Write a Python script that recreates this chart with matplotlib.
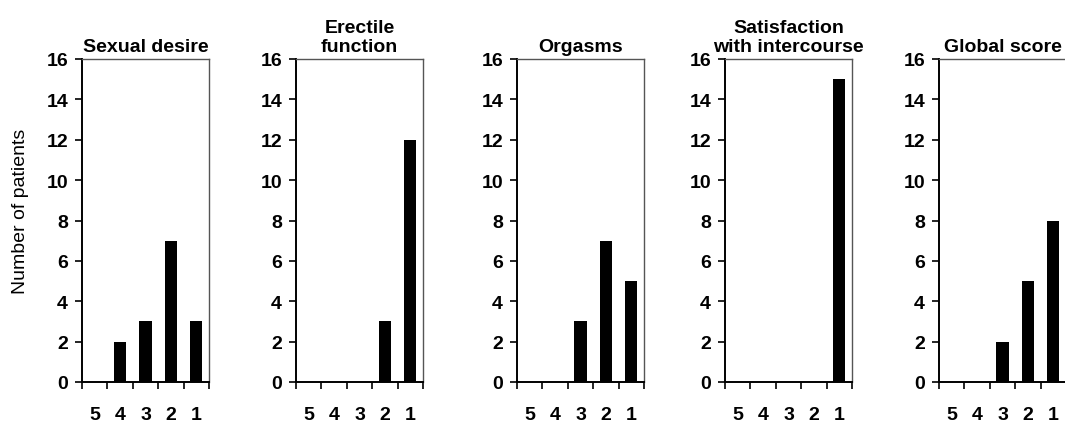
import numpy as np
import matplotlib
matplotlib.use("Agg")
from matplotlib import pyplot as plt

plt.rcParams['font.family'] = ['Liberation Sans', 'DejaVu Sans']

# score categories shown left to right
scores = ['5', '4', '3', '2', '1']

# number of patients per score
sexual_desire = [0, 2, 3, 7, 3]
erectile_function = [0, 0, 0, 3, 12]
orgasms = [0, 0, 3, 7, 5]
satisfaction = [0, 0, 0, 0, 15]
global_score = [0, 0, 2, 5, 8]

titles = ['Sexual desire', 'Erectile\nfunction', 'Orgasms',
          'Satisfaction\nwith intercourse', 'Global score']
panels = [sexual_desire, erectile_function, orgasms, satisfaction, global_score]

W, H = 1065, 427
fig = plt.figure(figsize=(W / 100, H / 100), dpi=100)

# left edge of each panel in pixels
lefts = [82, 296, 517, 725, 939]
ax_w = 127
ax_bottom = 44
ax_h = 323
fs = 14

for i, (left, vals, title) in enumerate(zip(lefts, panels, titles)):
    ax = fig.add_axes([left / W, ax_bottom / H, ax_w / W, ax_h / H])
    x = np.arange(len(scores)) + 0.5
    ax.bar(x, vals, width=0.48, color='black')
    ax.set_xlim(0, len(scores))
    ax.set_ylim(0, 16)

    ax.set_yticks(np.arange(0, 17, 2))
    ax.set_xticks(np.arange(0, len(scores) + 1))
    ax.set_xticklabels([])
    ax.set_xticks(x, minor=True)
    ax.set_xticklabels(scores, minor=True)
    ax.tick_params(axis='x', which='major', direction='out', length=5, width=1.2)
    ax.tick_params(axis='x', which='minor', length=0, pad=17, labelsize=fs)
    ax.tick_params(axis='y', direction='out', length=5, width=1.2, pad=5,
                   labelsize=fs)
    for lab in ax.get_xticklabels(minor=True) + ax.get_yticklabels():
        lab.set_fontweight('bold')

    for side in ['left', 'bottom']:
        ax.spines[side].set_linewidth(1.4)
        ax.spines[side].set_color('black')
    for side in ['top', 'right']:
        ax.spines[side].set_linewidth(1.0)
        ax.spines[side].set_color('#555555')

    ax.set_title(title, fontsize=fs, fontweight='bold', pad=6, linespacing=1.15)
    if i == 0:
        ax.set_ylabel('Number of patients', fontsize=fs)
        ax.yaxis.set_label_coords(-0.42, 0.53)

fig.savefig('out.png', dpi=100)
